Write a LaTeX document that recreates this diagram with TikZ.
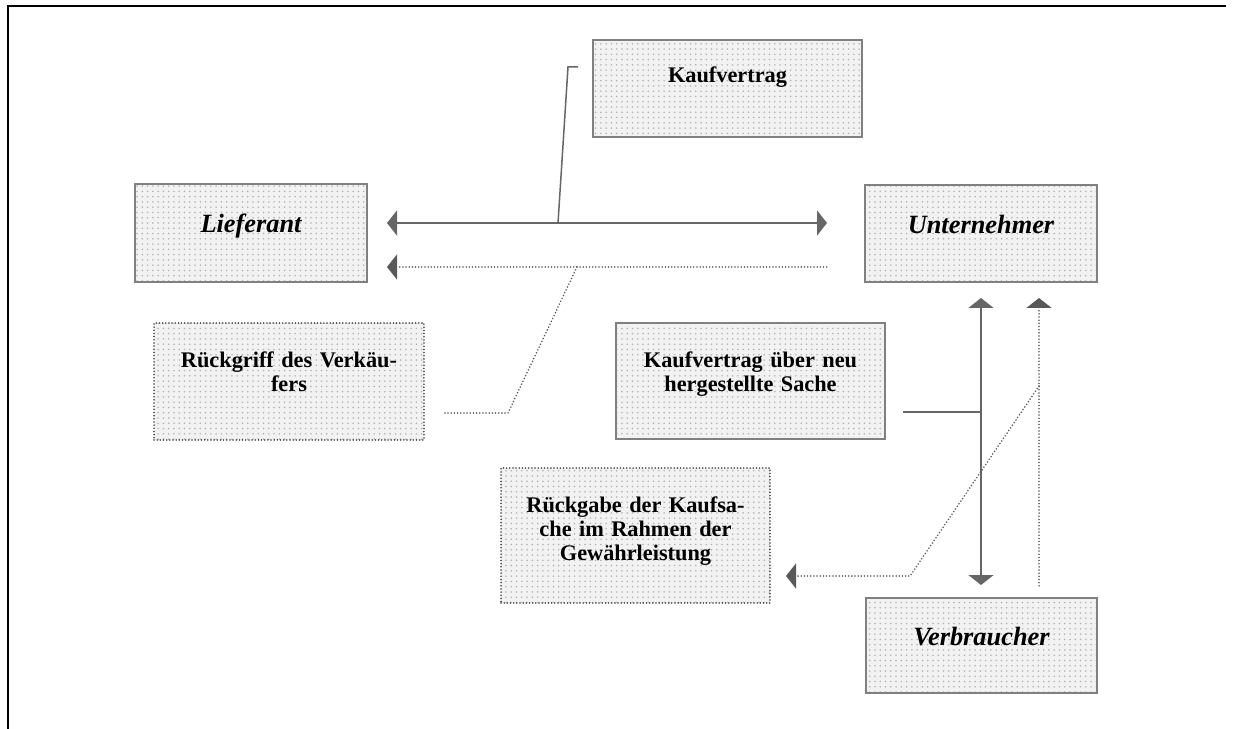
\documentclass[tikz,border=0pt]{standalone}
\usepackage{fontspec}
\setmainfont{Liberation Serif}
\usepackage{tikz}
\usetikzlibrary{arrows.meta}
\usetikzlibrary{patterns}

\begin{document}
\begin{tikzpicture}[x=0.02cm,y=-0.02cm,
    >={Triangle[length=0.2cm,width=0.5cm]},
    party/.style={draw=black!50, line width=0.035cm, preaction={fill=black!5},
      pattern=dots, pattern color=black!30, inner sep=0pt,
      font=\fontsize{15}{18}\selectfont\bfseries\itshape,
      text height=0.35cm, text depth=0.35cm},
    notebox/.style={draw=black!50, line width=0.035cm, preaction={fill=black!5},
      pattern=dots, pattern color=black!30, inner sep=0pt, align=center,
      font=\fontsize{12.7}{13.66}\selectfont\bfseries},
    dotbox/.style={notebox, draw=black!75, line width=1pt, line cap=round,
      dash pattern=on 0pt off 1.8pt},
    link/.style={draw=black!60, line width=0.04cm},
    thinlink/.style={draw=black!60, line width=0.03cm},
    dotlink/.style={draw=black!65, line width=1pt, line cap=round,
      dash pattern=on 0pt off 1.8pt}]

  \useasboundingbox (0,0) rectangle (1233,729);

  % Frame
  \draw[line width=0.05cm] (8,729) -- (8,6) -- (1226,6);

  % Parties
  \node[party, minimum width=4.64cm, minimum height=1.96cm] (lieferant) at (251,233) {Lieferant};
  \node[party, minimum width=4.64cm, minimum height=1.94cm] (unternehmer) at (981,233.5) {Unternehmer};
  \node[party, minimum width=4.62cm, minimum height=1.9cm] (verbraucher) at (981.5,645.5) {Verbraucher};

  % Notes
  \node[notebox, text width=5.38cm, minimum height=1.94cm, text height=0.35cm, text depth=0.57cm]
    (kaufvertrag) at (727.5,88.5) {Kaufvertrag};
  \node[notebox, text width=5.38cm, minimum height=2.32cm, text height=0.3cm, text depth=0.86cm]
    (neusache) at (750.5,381) {Kaufvertrag über neu\\hergestellte Sache};
  \node[dotbox, text width=5.4cm, minimum height=2.34cm, text height=0.3cm, text depth=0.88cm]
    (rueckgriff) at (289,381.5) {Rückgriff des Verkäu-\\fers};
  \node[dotbox, text width=5.38cm, minimum height=2.7cm, text height=0.3cm, text depth=1.24cm]
    (rueckgabe) at (635.5,535.5) {Rückgabe der Kaufsa-\\che im Rahmen der\\Gewährleistung};

  % Arrow ends
  \coordinate (kl) at (387,223);
  \coordinate (kr) at (827,223);
  \coordinate (rl) at (387,267);
  \coordinate (rr) at (828,267);
  \coordinate (vt) at (981,298);
  \coordinate (vb) at (981,585);
  \coordinate (gt) at (1039,298);
  \coordinate (gb) at (1039,587);

  % Callout points
  \coordinate (kfoot) at (558,223);
  \coordinate (kknee) at (568,67);
  \coordinate (kend) at (578,67);
  \coordinate (rfoot) at (577,267);
  \coordinate (rknee) at (508,413);
  \coordinate (rend) at (442,413);
  \coordinate (nfoot) at (981,412);
  \coordinate (nend) at (903,412);
  \coordinate (gfoot) at (1039,386);
  \coordinate (gknee) at (910,576);
  \coordinate (gend) at (786,576);

  % Arrows
  \draw[link, <->] (kl) -- (kr);
  \draw[dotlink, <-] (rl) -- (rr);
  \draw[link, <->] (vt) -- (vb);
  \draw[dotlink, <-] (gt) -- (gb);

  % Callouts
  \draw[thinlink] (kfoot) -- (kknee) -- (kend);
  \draw[dotlink] (rfoot) -- (rknee) -- (rend);
  \draw[thinlink] (nfoot) -- (nend);
  \draw[dotlink, ->] (gfoot) -- (gknee) -- (gend);
\end{tikzpicture}
\end{document}
